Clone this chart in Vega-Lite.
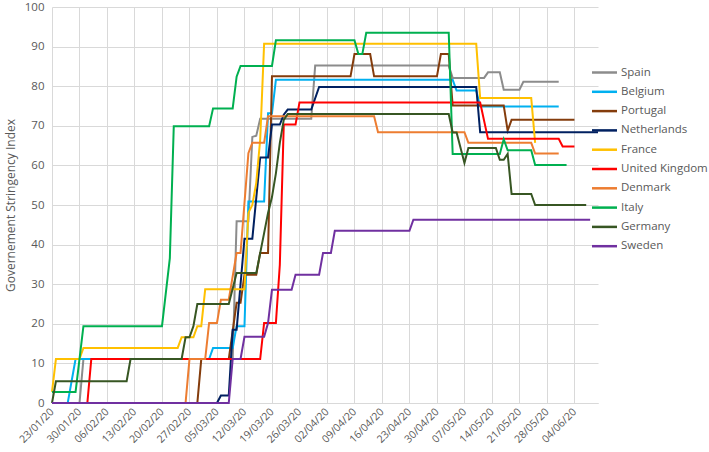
{
  "$schema": "https://vega.github.io/schema/vega-lite/v6.json",
  "width": 546,
  "height": 396,
  "autosize": "none",
  "padding": {"left": 52, "top": 7, "right": 111, "bottom": 49},
  "background": "white",
  "config": {"font": "Open Sans", "view": {"stroke": null}},
  "data": {"values": [
    {"country": "Spain", "date": "2020-01-23", "value": 0},
    {"country": "Spain", "date": "2020-01-30", "value": 0},
    {"country": "Spain", "date": "2020-01-31", "value": 11.1},
    {"country": "Spain", "date": "2020-03-09", "value": 11.1},
    {"country": "Spain", "date": "2020-03-10", "value": 45.9},
    {"country": "Spain", "date": "2020-03-13", "value": 45.9},
    {"country": "Spain", "date": "2020-03-14", "value": 67.2},
    {"country": "Spain", "date": "2020-03-15", "value": 67.5},
    {"country": "Spain", "date": "2020-03-16", "value": 71.8},
    {"country": "Spain", "date": "2020-03-29", "value": 71.8},
    {"country": "Spain", "date": "2020-03-30", "value": 85.2},
    {"country": "Spain", "date": "2020-05-03", "value": 85.2},
    {"country": "Spain", "date": "2020-05-04", "value": 82.1},
    {"country": "Spain", "date": "2020-05-12", "value": 82.1},
    {"country": "Spain", "date": "2020-05-13", "value": 83.5},
    {"country": "Spain", "date": "2020-05-16", "value": 83.5},
    {"country": "Spain", "date": "2020-05-17", "value": 79.1},
    {"country": "Spain", "date": "2020-05-21", "value": 79.1},
    {"country": "Spain", "date": "2020-05-22", "value": 81.1},
    {"country": "Spain", "date": "2020-05-31", "value": 81.1},

    {"country": "Belgium", "date": "2020-01-23", "value": 0},
    {"country": "Belgium", "date": "2020-01-27", "value": 0},
    {"country": "Belgium", "date": "2020-01-29", "value": 11.1},
    {"country": "Belgium", "date": "2020-03-03", "value": 11.1},
    {"country": "Belgium", "date": "2020-03-04", "value": 13.9},
    {"country": "Belgium", "date": "2020-03-09", "value": 13.9},
    {"country": "Belgium", "date": "2020-03-10", "value": 19.4},
    {"country": "Belgium", "date": "2020-03-12", "value": 19.4},
    {"country": "Belgium", "date": "2020-03-13", "value": 50.9},
    {"country": "Belgium", "date": "2020-03-17", "value": 50.9},
    {"country": "Belgium", "date": "2020-03-18", "value": 73.2},
    {"country": "Belgium", "date": "2020-03-19", "value": 73.2},
    {"country": "Belgium", "date": "2020-03-20", "value": 81.6},
    {"country": "Belgium", "date": "2020-05-04", "value": 81.6},
    {"country": "Belgium", "date": "2020-05-05", "value": 78.9},
    {"country": "Belgium", "date": "2020-05-10", "value": 78.9},
    {"country": "Belgium", "date": "2020-05-11", "value": 74.9},
    {"country": "Belgium", "date": "2020-05-31", "value": 74.9},

    {"country": "Portugal", "date": "2020-01-23", "value": 0},
    {"country": "Portugal", "date": "2020-02-29", "value": 0},
    {"country": "Portugal", "date": "2020-03-01", "value": 11.1},
    {"country": "Portugal", "date": "2020-03-08", "value": 11.1},
    {"country": "Portugal", "date": "2020-03-10", "value": 25.3},
    {"country": "Portugal", "date": "2020-03-11", "value": 25.3},
    {"country": "Portugal", "date": "2020-03-12", "value": 32.4},
    {"country": "Portugal", "date": "2020-03-15", "value": 32.4},
    {"country": "Portugal", "date": "2020-03-16", "value": 37.9},
    {"country": "Portugal", "date": "2020-03-18", "value": 37.9},
    {"country": "Portugal", "date": "2020-03-19", "value": 82.5},
    {"country": "Portugal", "date": "2020-04-08", "value": 82.5},
    {"country": "Portugal", "date": "2020-04-09", "value": 88.1},
    {"country": "Portugal", "date": "2020-04-13", "value": 88.1},
    {"country": "Portugal", "date": "2020-04-14", "value": 82.5},
    {"country": "Portugal", "date": "2020-04-30", "value": 82.5},
    {"country": "Portugal", "date": "2020-05-01", "value": 88.1},
    {"country": "Portugal", "date": "2020-05-03", "value": 88.1},
    {"country": "Portugal", "date": "2020-05-04", "value": 75.1},
    {"country": "Portugal", "date": "2020-05-17", "value": 75.1},
    {"country": "Portugal", "date": "2020-05-18", "value": 68.8},
    {"country": "Portugal", "date": "2020-05-19", "value": 71.5},
    {"country": "Portugal", "date": "2020-06-04", "value": 71.5},

    {"country": "Netherlands", "date": "2020-01-23", "value": 0},
    {"country": "Netherlands", "date": "2020-03-05", "value": 0},
    {"country": "Netherlands", "date": "2020-03-06", "value": 1.9},
    {"country": "Netherlands", "date": "2020-03-08", "value": 1.9},
    {"country": "Netherlands", "date": "2020-03-09", "value": 18.5},
    {"country": "Netherlands", "date": "2020-03-10", "value": 18.5},
    {"country": "Netherlands", "date": "2020-03-12", "value": 41.5},
    {"country": "Netherlands", "date": "2020-03-14", "value": 41.5},
    {"country": "Netherlands", "date": "2020-03-16", "value": 62},
    {"country": "Netherlands", "date": "2020-03-18", "value": 62},
    {"country": "Netherlands", "date": "2020-03-19", "value": 70.3},
    {"country": "Netherlands", "date": "2020-03-21", "value": 70.3},
    {"country": "Netherlands", "date": "2020-03-22", "value": 72.8},
    {"country": "Netherlands", "date": "2020-03-23", "value": 74.1},
    {"country": "Netherlands", "date": "2020-03-29", "value": 74.1},
    {"country": "Netherlands", "date": "2020-03-31", "value": 79.8},
    {"country": "Netherlands", "date": "2020-05-10", "value": 79.8},
    {"country": "Netherlands", "date": "2020-05-11", "value": 68.4},
    {"country": "Netherlands", "date": "2020-06-10", "value": 68.4},

    {"country": "France", "date": "2020-01-23", "value": 2.8},
    {"country": "France", "date": "2020-01-24", "value": 11.1},
    {"country": "France", "date": "2020-01-30", "value": 11.1},
    {"country": "France", "date": "2020-01-31", "value": 13.9},
    {"country": "France", "date": "2020-02-24", "value": 13.9},
    {"country": "France", "date": "2020-02-25", "value": 16.6},
    {"country": "France", "date": "2020-02-28", "value": 16.6},
    {"country": "France", "date": "2020-02-29", "value": 19.4},
    {"country": "France", "date": "2020-03-01", "value": 19.4},
    {"country": "France", "date": "2020-03-02", "value": 28.7},
    {"country": "France", "date": "2020-03-12", "value": 28.7},
    {"country": "France", "date": "2020-03-13", "value": 48},
    {"country": "France", "date": "2020-03-14", "value": 50},
    {"country": "France", "date": "2020-03-15", "value": 55.6},
    {"country": "France", "date": "2020-03-16", "value": 66.5},
    {"country": "France", "date": "2020-03-17", "value": 90.7},
    {"country": "France", "date": "2020-05-10", "value": 90.7},
    {"country": "France", "date": "2020-05-11", "value": 77},
    {"country": "France", "date": "2020-05-24", "value": 77},
    {"country": "France", "date": "2020-05-25", "value": 65.7},

    {"country": "United Kingdom", "date": "2020-01-23", "value": 0},
    {"country": "United Kingdom", "date": "2020-02-01", "value": 0},
    {"country": "United Kingdom", "date": "2020-02-02", "value": 11.1},
    {"country": "United Kingdom", "date": "2020-03-16", "value": 11.1},
    {"country": "United Kingdom", "date": "2020-03-17", "value": 20.2},
    {"country": "United Kingdom", "date": "2020-03-20", "value": 20.2},
    {"country": "United Kingdom", "date": "2020-03-21", "value": 34.9},
    {"country": "United Kingdom", "date": "2020-03-22", "value": 70.3},
    {"country": "United Kingdom", "date": "2020-03-25", "value": 70.3},
    {"country": "United Kingdom", "date": "2020-03-26", "value": 75.9},
    {"country": "United Kingdom", "date": "2020-05-11", "value": 75.9},
    {"country": "United Kingdom", "date": "2020-05-13", "value": 66.7},
    {"country": "United Kingdom", "date": "2020-05-31", "value": 66.7},
    {"country": "United Kingdom", "date": "2020-06-01", "value": 64.8},
    {"country": "United Kingdom", "date": "2020-06-04", "value": 64.8},

    {"country": "Denmark", "date": "2020-01-23", "value": 0},
    {"country": "Denmark", "date": "2020-02-26", "value": 0},
    {"country": "Denmark", "date": "2020-02-27", "value": 11.1},
    {"country": "Denmark", "date": "2020-03-02", "value": 11.1},
    {"country": "Denmark", "date": "2020-03-03", "value": 20.2},
    {"country": "Denmark", "date": "2020-03-05", "value": 20.2},
    {"country": "Denmark", "date": "2020-03-06", "value": 26.1},
    {"country": "Denmark", "date": "2020-03-08", "value": 26.1},
    {"country": "Denmark", "date": "2020-03-10", "value": 37.9},
    {"country": "Denmark", "date": "2020-03-11", "value": 37.9},
    {"country": "Denmark", "date": "2020-03-13", "value": 63.1},
    {"country": "Denmark", "date": "2020-03-14", "value": 65.7},
    {"country": "Denmark", "date": "2020-03-17", "value": 65.7},
    {"country": "Denmark", "date": "2020-03-18", "value": 72.4},
    {"country": "Denmark", "date": "2020-04-14", "value": 72.4},
    {"country": "Denmark", "date": "2020-04-15", "value": 68.4},
    {"country": "Denmark", "date": "2020-05-07", "value": 68.4},
    {"country": "Denmark", "date": "2020-05-08", "value": 65.7},
    {"country": "Denmark", "date": "2020-05-24", "value": 65.7},
    {"country": "Denmark", "date": "2020-05-25", "value": 63},
    {"country": "Denmark", "date": "2020-05-31", "value": 63},

    {"country": "Italy", "date": "2020-01-23", "value": 2.8},
    {"country": "Italy", "date": "2020-01-29", "value": 2.8},
    {"country": "Italy", "date": "2020-01-31", "value": 19.4},
    {"country": "Italy", "date": "2020-02-20", "value": 19.4},
    {"country": "Italy", "date": "2020-02-22", "value": 36.6},
    {"country": "Italy", "date": "2020-02-23", "value": 69.9},
    {"country": "Italy", "date": "2020-03-03", "value": 69.9},
    {"country": "Italy", "date": "2020-03-04", "value": 74.4},
    {"country": "Italy", "date": "2020-03-09", "value": 74.4},
    {"country": "Italy", "date": "2020-03-10", "value": 82.4},
    {"country": "Italy", "date": "2020-03-11", "value": 85.1},
    {"country": "Italy", "date": "2020-03-19", "value": 85.1},
    {"country": "Italy", "date": "2020-03-20", "value": 91.6},
    {"country": "Italy", "date": "2020-04-09", "value": 91.6},
    {"country": "Italy", "date": "2020-04-10", "value": 88.1},
    {"country": "Italy", "date": "2020-04-11", "value": 88.1},
    {"country": "Italy", "date": "2020-04-12", "value": 93.5},
    {"country": "Italy", "date": "2020-05-03", "value": 93.5},
    {"country": "Italy", "date": "2020-05-04", "value": 62.9},
    {"country": "Italy", "date": "2020-05-16", "value": 62.9},
    {"country": "Italy", "date": "2020-05-17", "value": 66.6},
    {"country": "Italy", "date": "2020-05-18", "value": 63.8},
    {"country": "Italy", "date": "2020-05-24", "value": 63.8},
    {"country": "Italy", "date": "2020-05-25", "value": 60.1},
    {"country": "Italy", "date": "2020-06-02", "value": 60.1},

    {"country": "Germany", "date": "2020-01-23", "value": 0},
    {"country": "Germany", "date": "2020-01-24", "value": 5.5},
    {"country": "Germany", "date": "2020-02-11", "value": 5.5},
    {"country": "Germany", "date": "2020-02-12", "value": 11.1},
    {"country": "Germany", "date": "2020-02-25", "value": 11.1},
    {"country": "Germany", "date": "2020-02-26", "value": 16.6},
    {"country": "Germany", "date": "2020-02-27", "value": 16.6},
    {"country": "Germany", "date": "2020-02-28", "value": 19.4},
    {"country": "Germany", "date": "2020-02-29", "value": 25},
    {"country": "Germany", "date": "2020-03-08", "value": 25},
    {"country": "Germany", "date": "2020-03-10", "value": 32.8},
    {"country": "Germany", "date": "2020-03-15", "value": 32.8},
    {"country": "Germany", "date": "2020-03-17", "value": 42.9},
    {"country": "Germany", "date": "2020-03-18", "value": 48},
    {"country": "Germany", "date": "2020-03-19", "value": 52},
    {"country": "Germany", "date": "2020-03-20", "value": 58},
    {"country": "Germany", "date": "2020-03-21", "value": 65.7},
    {"country": "Germany", "date": "2020-03-22", "value": 71.5},
    {"country": "Germany", "date": "2020-03-23", "value": 73},
    {"country": "Germany", "date": "2020-05-03", "value": 73},
    {"country": "Germany", "date": "2020-05-04", "value": 68.3},
    {"country": "Germany", "date": "2020-05-05", "value": 68.3},
    {"country": "Germany", "date": "2020-05-07", "value": 60.6},
    {"country": "Germany", "date": "2020-05-08", "value": 64.4},
    {"country": "Germany", "date": "2020-05-15", "value": 64.4},
    {"country": "Germany", "date": "2020-05-16", "value": 61.4},
    {"country": "Germany", "date": "2020-05-17", "value": 61.4},
    {"country": "Germany", "date": "2020-05-18", "value": 62.9},
    {"country": "Germany", "date": "2020-05-19", "value": 52.8},
    {"country": "Germany", "date": "2020-05-24", "value": 52.8},
    {"country": "Germany", "date": "2020-05-25", "value": 50},
    {"country": "Germany", "date": "2020-06-07", "value": 50},

    {"country": "Sweden", "date": "2020-01-23", "value": 0},
    {"country": "Sweden", "date": "2020-03-08", "value": 0},
    {"country": "Sweden", "date": "2020-03-09", "value": 11.1},
    {"country": "Sweden", "date": "2020-03-11", "value": 11.1},
    {"country": "Sweden", "date": "2020-03-12", "value": 16.7},
    {"country": "Sweden", "date": "2020-03-17", "value": 16.7},
    {"country": "Sweden", "date": "2020-03-18", "value": 20.2},
    {"country": "Sweden", "date": "2020-03-19", "value": 28.6},
    {"country": "Sweden", "date": "2020-03-24", "value": 28.6},
    {"country": "Sweden", "date": "2020-03-25", "value": 32.4},
    {"country": "Sweden", "date": "2020-03-31", "value": 32.4},
    {"country": "Sweden", "date": "2020-04-01", "value": 37.9},
    {"country": "Sweden", "date": "2020-04-03", "value": 37.9},
    {"country": "Sweden", "date": "2020-04-04", "value": 43.5},
    {"country": "Sweden", "date": "2020-04-23", "value": 43.5},
    {"country": "Sweden", "date": "2020-04-24", "value": 46.3},
    {"country": "Sweden", "date": "2020-06-08", "value": 46.3}
  ]},
  "mark": {"type": "line", "strokeWidth": 2, "interpolate": "linear"},
  "encoding": {
    "x": {
      "field": "date", "type": "temporal",
      "scale": {"type": "utc", "nice": false, "domain": [
        {"year": 2020, "month": 1, "date": 23, "utc": true},
        {"year": 2020, "month": 6, "date": 10, "utc": true}
      ]},
      "axis": {
        "title": null,
        "format": "%d/%m/%y",
        "values": [
          {"year": 2020, "month": 1, "date": 23, "utc": true},
          {"year": 2020, "month": 1, "date": 30, "utc": true},
          {"year": 2020, "month": 2, "date": 6, "utc": true},
          {"year": 2020, "month": 2, "date": 13, "utc": true},
          {"year": 2020, "month": 2, "date": 20, "utc": true},
          {"year": 2020, "month": 2, "date": 27, "utc": true},
          {"year": 2020, "month": 3, "date": 5, "utc": true},
          {"year": 2020, "month": 3, "date": 12, "utc": true},
          {"year": 2020, "month": 3, "date": 19, "utc": true},
          {"year": 2020, "month": 3, "date": 26, "utc": true},
          {"year": 2020, "month": 4, "date": 2, "utc": true},
          {"year": 2020, "month": 4, "date": 9, "utc": true},
          {"year": 2020, "month": 4, "date": 16, "utc": true},
          {"year": 2020, "month": 4, "date": 23, "utc": true},
          {"year": 2020, "month": 4, "date": 30, "utc": true},
          {"year": 2020, "month": 5, "date": 7, "utc": true},
          {"year": 2020, "month": 5, "date": 14, "utc": true},
          {"year": 2020, "month": 5, "date": 21, "utc": true},
          {"year": 2020, "month": 5, "date": 28, "utc": true},
          {"year": 2020, "month": 6, "date": 4, "utc": true}
        ],
        "labelAngle": -45,
        "labelAlign": "right",
        "labelBaseline": "middle",
        "ticks": false,
        "labelPadding": 7,
        "labelFontSize": 10.5,
        "labelColor": "#595959",
        "labelOverlap": false,
        "domainColor": "#d9d9d9",
        "gridColor": "#d9d9d9",
        "gridOpacity": 1
      }
    },
    "y": {
      "field": "value", "type": "quantitative",
      "scale": {"domain": [0, 100], "nice": false},
      "axis": {
        "title": "Governement Stringency Index",
        "values": [0, 10, 20, 30, 40, 50, 60, 70, 80, 90, 100],
        "ticks": false,
        "domain": false,
        "labelPadding": 8,
        "labelFontSize": 11.5,
        "labelColor": "#595959",
        "titleFontSize": 12,
        "titleFontWeight": "normal",
        "titleColor": "#595959",
        "titlePadding": 7,
        "gridColor": "#d9d9d9",
        "gridOpacity": 1
      }
    },
    "color": {
      "field": "country", "type": "nominal",
      "scale": {
        "domain": ["Spain", "Belgium", "Portugal", "Netherlands", "France", "United Kingdom", "Denmark", "Italy", "Germany", "Sweden"],
        "range": ["#8c8c8c", "#00b0f0", "#843c0c", "#002060", "#ffc000", "#ff0000", "#ed7d31", "#00b050", "#375623", "#7030a0"]
      },
      "legend": {
        "title": null,
        "orient": "none",
        "legendX": 546,
        "legendY": 59,
        "padding": 0,
        "symbolType": "M-2.5,0H2.5",
        "symbolSize": 100,
        "symbolStrokeWidth": 2.5,
        "labelFontSize": 11.5,
        "labelColor": "#595959",
        "labelOffset": 10,
        "rowPadding": 7.3
      }
    }
  }
}
